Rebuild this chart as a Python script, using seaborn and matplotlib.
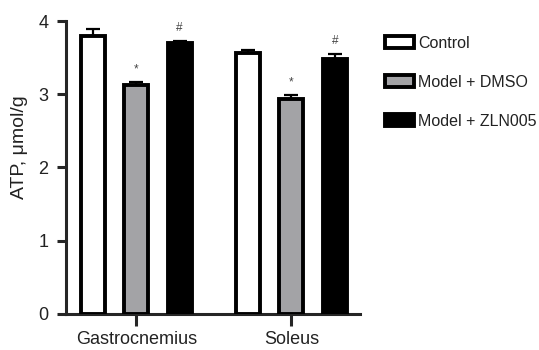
import pandas as pd
import matplotlib
matplotlib.use('Agg')
import matplotlib.pyplot as plt
import seaborn as sns

# --- données ---
muscles = ['Gastrocnemius', 'Soleus']
groups = ['Control', 'Model + DMSO', 'Model + ZLN005']
atp_control = [3.79, 3.56]
atp_dmso = [3.12, 2.93]
atp_zln = [3.70, 3.48]
err_control = [0.10, 0.04]
err_dmso = [0.05, 0.06]
err_zln = [0.03, 0.07]
marks_dmso = ['*', '*']
marks_zln = ['#', '#']

rows = []
for g, vals, errs in zip(groups, [atp_control, atp_dmso, atp_zln],
                         [err_control, err_dmso, err_zln]):
    for m, v, e in zip(muscles, vals, errs):
        rows.append({'Muscle': m, 'Group': g, 'ATP': v, 'SEM': e})
df = pd.DataFrame(rows)

sns.set_style('ticks')
plt.rcParams['font.family'] = ['Liberation Sans', 'DejaVu Sans']

fig = plt.figure(figsize=(5.39, 3.5), dpi=100)
ax = fig.add_axes([0.122, 0.103, 0.545, 0.837])

palette = {'Control': 'white', 'Model + DMSO': '#a3a3a6', 'Model + ZLN005': 'black'}
sns.barplot(data=df, x='Muscle', y='ATP', hue='Group', order=muscles, hue_order=groups,
            palette=palette, errorbar=None, width=0.84, gap=0.45,
            edgecolor='black', linewidth=2.8, saturation=1, ax=ax, zorder=3)

# barres d'erreur (partie haute seulement) + signes de significativité
marks = {'Control': ['', ''], 'Model + DMSO': marks_dmso, 'Model + ZLN005': marks_zln}
for g, cont in zip(groups, ax.containers):
    sub = df[df['Group'] == g].set_index('Muscle').loc[muscles]
    for patch, (_, r), mk in zip(cont.patches, sub.iterrows(), marks[g]):
        xc = patch.get_x() + patch.get_width() / 2
        ax.errorbar(xc, r['ATP'], yerr=[[0], [r['SEM']]], color='black',
                    capsize=5, elinewidth=1.6, capthick=1.6, zorder=2)
        if mk:
            ax.text(xc, r['ATP'] + r['SEM'] + 0.09, mk, ha='center', va='bottom',
                    fontsize=8.5, color='#444444')

ax.set_ylim(0, 4)
ax.set_xlim(-0.455, 1.44)
ax.set_yticks([0, 1, 2, 3, 4])
ax.set_xlabel('')
ax.set_ylabel('ATP, μmol/g', fontsize=14, color='#222222')
ax.yaxis.set_label_coords(-0.13, 0.57)
for s in ['left', 'bottom']:
    ax.spines[s].set_linewidth(2.2)
sns.despine(ax=ax)
ax.tick_params(axis='y', width=2.2, length=6.5, pad=6, labelsize=13, labelcolor='#222222')
ax.tick_params(axis='x', width=2.2, length=8.5, pad=4, labelsize=13, labelcolor='#222222')

ax.legend(loc='upper left', bbox_to_anchor=(0.714, 0.898), bbox_transform=fig.transFigure,
          frameon=False, fontsize=11.5, handlelength=1.8, handleheight=0.75,
          labelspacing=1.5, handletextpad=0.3, borderpad=0, borderaxespad=0,
          labelcolor='#222222')

plt.savefig('out.png', dpi=100)
